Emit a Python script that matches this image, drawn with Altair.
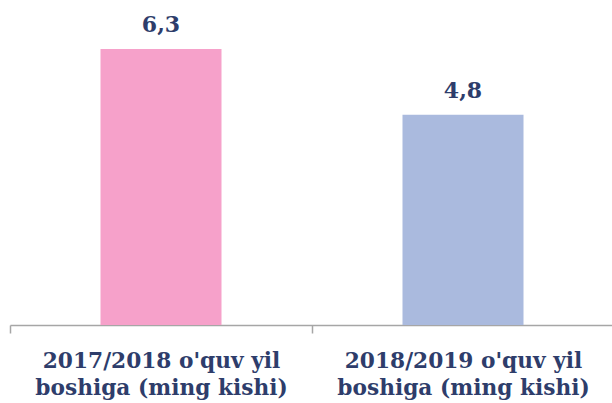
import altair as alt
import pandas as pd

categories = ["2017/2018 o'quv yil boshiga (ming kishi)", "2018/2019 o'quv yil boshiga (ming kishi)"]
values = [6.3, 4.8]
labels = ["6,3", "4,8"]
colors = ["#F6A1CA", "#AABADE"]

df = pd.DataFrame({"cat": categories, "val": values, "lab": labels, "col": colors})

FONT = "DejaVu Serif"
TXT = "#2E3D6B"

x = alt.X("cat:N", sort=categories, title=None,
          scale=alt.Scale(paddingInner=0, paddingOuter=0, range=[0, 604]),
          axis=alt.Axis(labelAngle=0, domainColor="#A6A6A6", tickColor="#A6A6A6",
                        domainWidth=1.5, tickWidth=1.5, tickSize=8, tickBand="extent",
                        labelFont=FONT, labelFontSize=21.7, labelFontWeight="bold",
                        labelColor=TXT, labelLineHeight=27, labelPadding=17,
                        labelBaseline="top", labelLimit=400,
                        labelExpr="[slice(datum.label, 0, indexof(datum.label, ' boshiga')), slice(datum.label, indexof(datum.label, ' boshiga') + 1)]"))
y = alt.Y("val:Q", scale=alt.Scale(domain=[0, 7.42], nice=False), axis=None)

bars = alt.Chart(df).mark_bar(size=121).encode(
    x=x, y=y, color=alt.Color("col:N", scale=None))
text = alt.Chart(df).mark_text(dy=-17, baseline="alphabetic", font=FONT, fontSize=22,
                               fontWeight="bold", color=TXT).encode(
    x=alt.X("cat:N", sort=categories), y=y, text="lab:N")

chart = (bars + text).properties(
    width=602, height=325,
    autosize=alt.AutoSizeParams(type="none"),
    padding={"left": 10, "top": 0, "right": 0, "bottom": 76},
).configure_view(stroke=None)

chart.save("out.html", embed_options={"renderer": "svg", "actions": False})
